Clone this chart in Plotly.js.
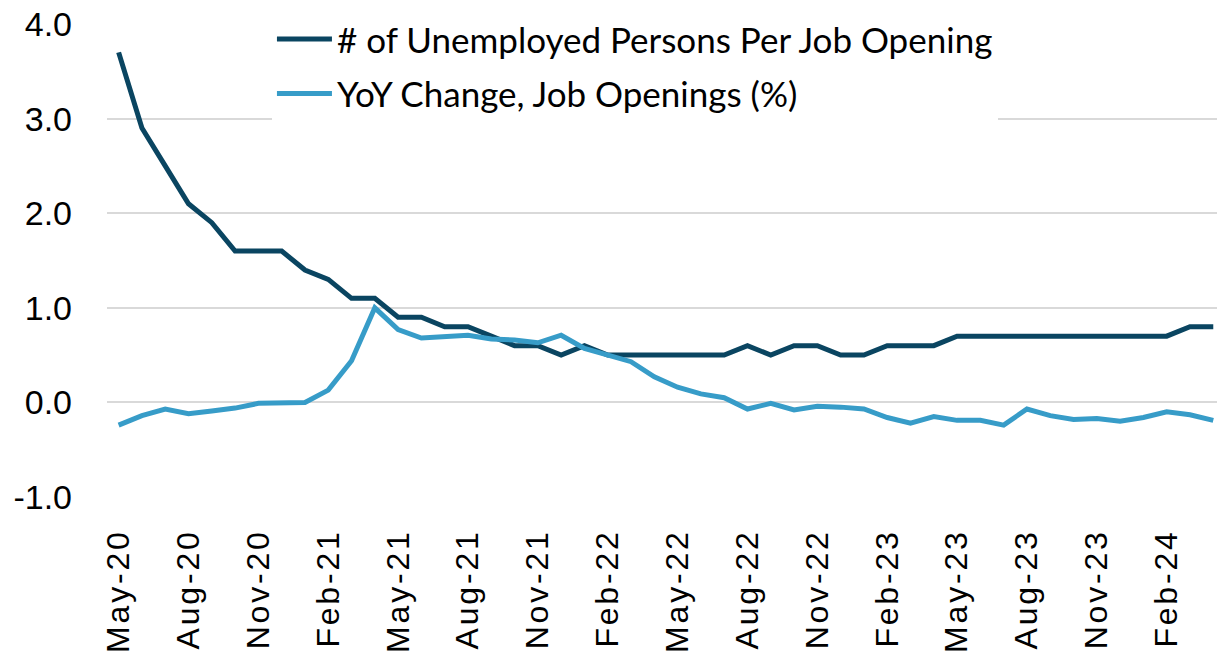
<!DOCTYPE html>
<html>
<head>
<meta charset="utf-8">
<script src="https://cdn.plot.ly/plotly-3.0.1.min.js"></script>
<style>
html,body{margin:0;padding:0;background:#fff;}
#chart{width:1217px;height:652px;}
#chart .xtick text{letter-spacing:2.8px;}
</style>
</head>
<body>
<div id="chart"></div>
<script>
const months = ["May-20","Jun-20","Jul-20","Aug-20","Sep-20","Oct-20","Nov-20","Dec-20",
"Jan-21","Feb-21","Mar-21","Apr-21","May-21","Jun-21","Jul-21","Aug-21","Sep-21","Oct-21","Nov-21","Dec-21",
"Jan-22","Feb-22","Mar-22","Apr-22","May-22","Jun-22","Jul-22","Aug-22","Sep-22","Oct-22","Nov-22","Dec-22",
"Jan-23","Feb-23","Mar-23","Apr-23","May-23","Jun-23","Jul-23","Aug-23","Sep-23","Oct-23","Nov-23","Dec-23",
"Jan-24","Feb-24","Mar-24","Apr-24"];
const unemployedPerOpening = [3.7,2.9,2.5,2.1,1.9,1.6,1.6,1.6,1.4,1.3,1.1,1.1,0.9,0.9,0.8,0.8,
0.7,0.6,0.6,0.5,0.6,0.5,0.5,0.5,0.5,0.5,0.5,0.6,0.5,0.6,0.6,0.5,0.5,0.6,0.6,0.6,
0.7,0.7,0.7,0.7,0.7,0.7,0.7,0.7,0.7,0.7,0.8,0.8];
const yoyJobOpenings = [-0.24,-0.14,-0.07,-0.12,-0.09,-0.06,-0.01,0.0,0.0,0.13,0.44,1.0,0.77,0.68,0.70,0.71,
0.67,0.66,0.63,0.71,0.57,0.50,0.43,0.27,0.16,0.09,0.05,-0.07,-0.01,-0.08,-0.04,-0.05,
-0.07,-0.16,-0.22,-0.15,-0.19,-0.19,-0.24,-0.07,-0.14,-0.18,-0.17,-0.20,-0.16,-0.10,-0.13,-0.19];
const seriesNames = ["# of Unemployed Persons Per Job Opening","YoY Change, Job Openings (%)"];
const yTicks = [-1,0,1,2,3,4];
const yTickText = ["-1.0","0.0","1.0","2.0","3.0","4.0"];
const xTickVals = months.filter((m,i)=>i%3===0);

const traces = [
  {x: months, y: unemployedPerOpening, name: seriesNames[0], type:'scatter', mode:'lines',
   line:{color:'#0a4561', width:5}, legendgroup:'a'},
  {x: months, y: yoyJobOpenings, name: seriesNames[1], type:'scatter', mode:'lines',
   line:{color:'#379cc8', width:5}, legendgroup:'b'}
];
const layout = {
  width:1217, height:652,
  margin:{l:107, r:0, t:24, b:155},
  paper_bgcolor:'#fff', plot_bgcolor:'#fff',
  showlegend:true,
  legend:{x:0.1486, xanchor:'left', y:1.03, yanchor:'top', bgcolor:'#ffffff',
    font:{family:'Lato, sans-serif', size:35, color:'#000'}, itemwidth:55,
    traceorder:'grouped', tracegroupgap:6},
  xaxis:{type:'category', range:[-0.5,47.16], tickvals:xTickVals, tickangle:-90,
    showgrid:false, showline:false, ticks:'', zeroline:false, ticklabelstandoff:25,
    tickfont:{family:'Liberation Sans, Arial, sans-serif', size:32, color:'#000'}},
  yaxis:{range:[-1,4], tickvals:yTicks, ticktext:yTickText, showgrid:true,
    gridcolor:'#d9d9d9', gridwidth:2, zeroline:false, showline:false, ticks:'',
    ticklabelstandoff:34,
    tickfont:{family:'Liberation Sans, Arial, sans-serif', size:34, color:'#000'}},
  hovermode:false
};
Plotly.newPlot('chart', traces, layout, {displayModeBar:false, staticPlot:true});
</script>
</body>
</html>
